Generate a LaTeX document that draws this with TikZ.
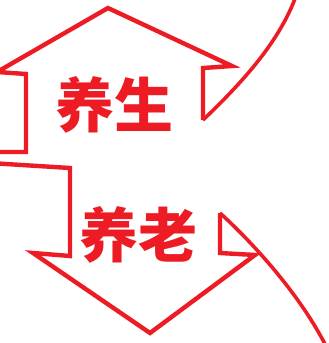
\documentclass[tikz,border=0pt]{standalone}
\usepackage{fontspec}
\usepackage{xcolor}
\usepackage{tikz}
\newfontfamily\cjk{Noto Sans CJK SC}
\definecolor{signred}{RGB}{237,28,36}

\begin{document}
\begin{tikzpicture}[x=1pt, y=-1pt,
    outline/.style={draw=signred, line width=4.4pt, line join=miter},
    swoosh/.style={draw=signred, line width=3.6pt},
    word/.style={text=signred, inner sep=0pt, font=\cjk\bfseries\fontsize{59}{62}\selectfont}]

    % Frame
    \clip (0,0) rectangle (329,343);

    % Up arrow
    \draw[outline] (-10,152) -- (26,152) -- (26,74) -- (-3,72) -- (108,8) -- (232,66) -- (203,68) -- (203,120);
    \draw[swoosh] (203,120) .. controls (245,80) and (280,40) .. (296,-4);

    % Down arrow
    \draw[outline] (-10,163) -- (70,168) -- (70,256) -- (33,253) -- (150,333) -- (255,255) -- (220,253) -- (220,213);
    \draw[swoosh] (220,213) .. controls (255,245) and (300,295) .. (326,346);

    % Labels
    \node[word] (yangsheng) at (114,105) {养生};
    \node[word] (yanglao) at (138,235) {养老};
\end{tikzpicture}
\end{document}
